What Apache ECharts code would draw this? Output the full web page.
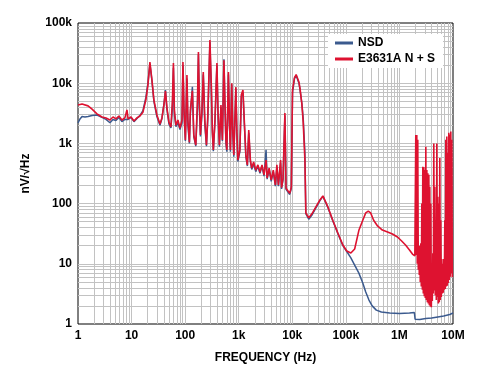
<!DOCTYPE html>
<html><head><meta charset="utf-8">
<script src="https://cdn.jsdelivr.net/npm/echarts@6/dist/echarts.min.js"></script>
<style>html,body{margin:0;padding:0;background:#fff}#c{width:479px;height:369px}</style>
</head><body><div id="c"></div>
<script>
// Tick labels
const xTickValues = [1, 10, 100, 1e3, 1e4, 1e5, 1e6, 1e7];
const xTickLabels = ['1', '10', '100', '1k', '10k', '100k', '1M', '10M'];
const yTickValues = [1, 10, 100, 1e3, 1e4, 1e5];
const yTickLabels = ['1', '10', '100', '1k', '10k', '100k'];
const seriesNames = ['NSD', 'E3631A N + S'];

// NSD (blue)
const nsdFreq = [1,1.09,1.19,1.35,1.54,1.83,2.26,2.8,3.33,3.95,4.5,5.1,5.8,6.6,7.5,8.6,9.75,11.1,12.6,14.3,16.3,18.5,20.2,22,24,26.1,29.7,33.9,36.9,40.2,42.9,45.7,49.8,54.3,58,60.4,63,67.3,73.4,80,87.3,91,95.3,101,108,112.6,120,125,136.5,145,158,170,177,184,193,206,218,233,250,265,290,310,322,336,360,392,410,436,466,496,530,552,577,600,643,670,700,741,775,810,885,923,965,1050,1120,1200,1270,1360,1450,1540,1650,1750,1900,2080,2280,2490,2720,2970,3240,3390,3700,4040,4420,4830,5160,5510,6050,6300,6720,7280,7650,8210,8970,9600,10100,11000,11800,12500,13300,13900,15100,16000,17200,17900,20300,23100,27600,32800,37300,40600,46200,57000,70800,88000,104000,124000,146000,175000,207000,235000,270000,310000,370000,460000,660000,1000000,1540000,1900000,1960000,2400000,3100000,4000000,5200000,6700000,8700000,10000000];
const nsdVal = [2200,2550,2800,2750,2800,2900,2950,2700,2500,2200,2500,2400,2700,2300,2500,2500,2700,2300,2600,2900,3500,5800,10000,21000,11000,5000,2800,2000,2600,4500,7700,3700,2100,1800,4000,18000,3000,1900,2200,1700,2200,20000,3000,1100,12000,2000,1000,3000,8700,1300,900,4000,30000,4000,1300,3000,14000,2000,900,2500,48000,6000,1500,740,2200,20000,3000,880,4000,1100,25000,4500,1000,730,14000,2200,730,9500,1500,600,8000,1500,500,730,6000,7000,2200,600,420,1500,500,370,460,340,420,320,420,285,780,255,370,235,340,195,400,195,480,175,250,2900,172,180,142,180,7000,12000,13500,14000,10000,8000,4600,2600,700,68,55,64,85,112,132,128,86,52,32,20,16,12.5,9.5,7,4.8,3.4,2.5,2,1.7,1.58,1.52,1.49,1.52,1.55,1.2,1.19,1.23,1.26,1.31,1.36,1.44,1.52];

// E3631A N + S (red), up to ~2 MHz
const e3631aFreq = [1,1.19,1.54,1.83,2.26,2.8,3.33,3.95,4.5,5.1,5.8,6.6,7.5,8.2,8.6,9.75,11.1,12.6,14.3,16.3,18.5,20.2,22,24,26.1,29.7,33.9,36.9,40.2,42.9,45.7,49.8,54.3,58,60.4,63,67.3,73.4,80,87.3,91,95.3,101,108,112.6,120,125,136.5,145,158,170,177,184,193,206,218,233,250,265,290,310,322,336,360,392,410,436,466,496,530,552,577,600,643,670,700,741,775,810,885,923,965,1050,1120,1200,1270,1360,1450,1540,1650,1750,1900,2080,2280,2490,2720,2970,3240,3390,3700,4040,4420,4830,5160,5510,6050,6300,6720,7280,7650,8210,8970,9600,10100,11000,11800,12500,13300,13900,15100,16000,17200,17900,20300,23100,27600,32800,37300,40600,46200,57000,70800,88000,104000,124000,146000,175000,207000,235000,262000,290000,330000,390000,480000,600000,740000,920000,1100000,1300000,1540000,1750000,1940000];
const e3631aVal = [4350,4500,4200,3700,3100,2750,2650,2450,2750,2550,2850,2450,2650,3600,2550,2750,2350,2650,2850,3300,5300,9300,22500,11300,5300,2960,2100,2650,4350,7400,3900,2260,1870,5300,21700,3600,2000,2450,1800,2450,22500,3600,1140,13700,2450,1050,3600,7500,1380,940,5300,33000,5300,1380,3600,15400,2450,940,2960,52000,7700,1660,780,2450,21700,3600,940,4350,1140,24000,5300,1140,780,15400,2450,780,10000,1660,640,8600,1660,530,780,6400,7700,2450,640,440,1660,530,390,490,360,440,335,440,300,530,266,390,247,360,204,440,204,530,185,260,3200,180,190,148,190,7700,12400,13900,14500,10500,8300,4500,2200,530,70,58,67,88,115,134,130,88,53,32.5,20.5,16.3,15.1,17.6,36,53,70,75,70,53,42.5,36.4,33.7,31.2,27.9,23.9,20.5,17,14.5,13.5];

// E3631A N + S (red), dense switching-noise band ~2 MHz to 10 MHz
const e3631aHfFreq = [1.98e6,2.02e6,2.06e6,2.11e6,2.15e6,2.20e6,2.25e6,2.30e6,2.35e6,2.40e6,2.45e6,2.51e6,2.56e6,2.62e6,2.68e6,2.73e6,2.79e6,2.85e6,2.91e6,2.98e6,3.04e6,3.11e6,3.18e6,3.25e6,3.32e6,3.39e6,3.46e6,3.54e6,3.62e6,3.69e6,3.77e6,3.85e6,3.94e6,4.02e6,4.11e6,4.20e6,4.29e6,4.38e6,4.48e6,4.57e6,4.67e6,4.78e6,4.88e6,4.99e6,5.10e6,5.20e6,5.32e6,5.43e6,5.55e6,5.67e6,5.79e6,5.92e6,6.05e6,6.18e6,6.31e6,6.45e6,6.59e6,6.73e6,6.88e6,7.03e6,7.18e6,7.34e6,7.50e6,7.66e6,7.83e6,8.00e6,8.17e6,8.35e6,8.53e6,8.71e6,8.90e6,9.10e6,9.30e6,9.50e6,9.71e6,1e7];
const e3631aHfVal = [14,1380,14,1380,10,1150,8,19,6.5,20,5,22,4.2,100,3.7,410,3.2,400,2.9,360,2.7,880,2.5,360,2.3,320,2.2,300,2.05,190,1.95,100,1.9,8,2.4,15,3.2,1000,3.6,190,3.0,53,2.5,1000,2.8,130,2.2,100,2.3,570,2.5,53,2.8,12,3.2,10,3.3,12,3.7,53,3.8,1150,4.2,1300,4.3,690,4.8,1500,5.4,1400,6.1,1570,7,1150,6,6];

const pair = (fs, vs) => fs.map((f, i) => [f, vs[i]]);
const nsdData = pair(nsdFreq, nsdVal);
const redData = pair(e3631aFreq, e3631aVal).concat(pair(e3631aHfFreq, e3631aHfVal));

// grid lines (decades and 2..9 sub-decades)
const gridLines = [];
for (let d = 1; d < 1e7; d *= 10) {
  for (let m = 1; m <= 9; m++) { const v = d * m; if (v > 1 && v < 1e7) gridLines.push({ xAxis: v }); }
}
for (let d = 1; d < 1e5; d *= 10) {
  for (let m = 1; m <= 9; m++) { const v = d * m; if (v > 1 && v < 1e5) gridLines.push({ yAxis: v }); }
}

const lab = (vals, labels) => v => {
  const i = vals.findIndex(t => Math.abs(t - v) / t < 1e-6);
  return i >= 0 ? labels[i] : '';
};
const FONT = 'Liberation Sans, Arial, sans-serif';

const chart = echarts.init(document.getElementById('c'), null, { renderer: 'canvas' });
chart.setOption({
  animation: false,
  backgroundColor: '#fff',
  grid: { left: 78, right: 26, top: 23, bottom: 45, show: true, borderColor: '#000', borderWidth: 1, backgroundColor: 'transparent', z: 0 },
  legend: {
    data: seriesNames, orient: 'vertical', left: 328, top: 34, z: 10,
    backgroundColor: '#fff', padding: [3, 8, 3, 7],
    itemWidth: 18, itemHeight: 3, itemGap: 4, icon: 'rect',
    textStyle: { fontFamily: FONT, fontWeight: 'bold', fontSize: 12, color: '#000' }
  },
  xAxis: {
    type: 'log', logBase: 10, min: 1, max: 1e7,
    name: 'FREQUENCY (Hz)', nameLocation: 'middle', nameGap: 28,
    nameTextStyle: { fontFamily: FONT, fontWeight: 'bold', fontSize: 12, color: '#000' },
    axisLine: { show: false }, axisTick: { show: false }, splitLine: { show: false },
    axisLabel: { formatter: lab(xTickValues, xTickLabels), fontFamily: FONT, fontWeight: 'bold', fontSize: 12, color: '#000', margin: 6, showMinLabel: true, showMaxLabel: true }
  },
  yAxis: {
    type: 'log', logBase: 10, min: 1, max: 1e5,
    name: 'nV/√Hz', nameLocation: 'middle', nameGap: 46, nameRotate: 90,
    nameTextStyle: { fontFamily: FONT, fontWeight: 'bold', fontSize: 12, color: '#000' },
    axisLine: { show: false }, axisTick: { show: false }, splitLine: { show: false },
    axisLabel: { formatter: lab(yTickValues, yTickLabels), fontFamily: FONT, fontWeight: 'bold', fontSize: 12, color: '#000', margin: 6, showMinLabel: true, showMaxLabel: true }
  },
  series: [
    {
      name: 'grid', type: 'line', data: [[1, 1]], symbol: 'none', silent: true, z: 1,
      lineStyle: { opacity: 0 },
      markLine: { z: 1, silent: true, symbol: ['none', 'none'], label: { show: false }, animation: false,
        lineStyle: { color: '#c2c2c2', type: 'solid', width: 1 }, emphasis: { disabled: true }, data: gridLines }
    },
    { name: seriesNames[0], type: 'line', data: nsdData, symbol: 'none', z: 3, color: '#3b5a8e',
      lineStyle: { width: 1.5, color: '#3b5a8e' }, emphasis: { disabled: true } },
    { name: seriesNames[1], type: 'line', data: redData, symbol: 'none', z: 4, color: '#de1230',
      lineStyle: { width: 1.6, color: '#de1230' }, emphasis: { disabled: true } }
  ]
});
</script></body></html>
